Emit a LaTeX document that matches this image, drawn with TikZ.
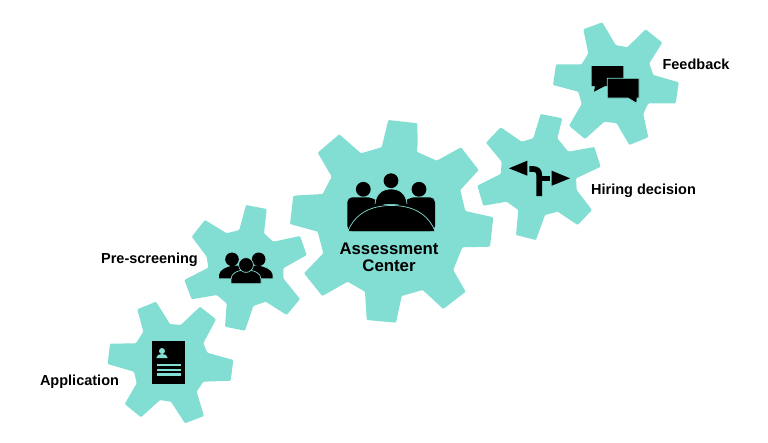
\documentclass[tikz,border=0pt]{standalone}
\usepackage{fontspec}
\setmainfont{Liberation Sans}
\usetikzlibrary{positioning}
\definecolor{gearteal}{RGB}{130,221,211}
\begin{document}
\begin{tikzpicture}[
	x=1pt, y=-1pt,
	% Define styles
	gearbody/.style={fill=gearteal, draw=none, rounded corners=1pt},
	gearlabel/.style={font=\fontsize{14.5}{17}\selectfont\bfseries, text=black, align=center, inner sep=0pt},
	biglabel/.style={gearlabel, font=\fontsize{16.8}{17}\selectfont\bfseries},
	iconblack/.style={fill=black, draw=none},
	iconcut/.style={fill=black, draw=gearteal, line width=0.7pt},
	iconteal/.style={fill=gearteal, draw=none}
	]
	\useasboundingbox (0,0) rectangle (768,442);
	
	% Gears
	\fill[gearbody] (137.3,309.3) -- (156,301.7) -- (170,324) -- (180.7,325) -- (200,306.7) -- (216,319.3) -- (203.3,343.3) -- (207.3,352.7) -- (233.3,360) -- (230.7,380.7) -- (203.3,381.7) -- (196.7,391.7) -- (204,416) -- (185,423.3) -- (171,401.7) -- (160,400) -- (141,417.3) -- (124.7,404) -- (136.7,383.3) -- (134,371.7) -- (107.7,364) -- (110,343.7) -- (136,343.3) -- (143.3,331.7) -- cycle;
	\fill[gearbody] (246,205) -- (266.7,209) -- (264,233.3) -- (273.3,241.7) -- (300,236) -- (306.7,255) -- (283.3,268.3) -- (283.3,278.3) -- (300,299) -- (286.7,315) -- (265.7,301.7) -- (253.3,306) -- (245,330.7) -- (225,326.7) -- (226.7,303.3) -- (216.7,295) -- (191.7,299.3) -- (184.3,280) -- (208.3,267.7) -- (206.7,256.7) -- (191.7,236.7) -- (205,220) -- (226.7,233.3) -- (239.3,230) -- cycle;
	\fill[gearbody] (388.3,120) -- (417.3,123.3) -- (417.7,143.3) -- (416.7,151.7) -- (436.7,160.7) -- (461,147.3) -- (478.7,170) -- (460.3,190) -- (465.3,211) -- (493.3,217.3) -- (490,246.7) -- (462.3,247.3) -- (453.3,270) -- (465.7,291.7) -- (443.3,309) -- (422.7,290) -- (401.7,296) -- (396,322.7) -- (366.7,320) -- (365,291.7) -- (347.7,281.7) -- (322.3,296) -- (304,273.3) -- (323.3,253.3) -- (317.7,231.7) -- (290,224) -- (293.3,195.7) -- (322.7,194) -- (331.7,176.7) -- (317.7,152.7) -- (339.3,134.3) -- (361,153.3) -- (381.7,147.3) -- cycle;
	\fill[gearbody] (540.7,114) -- (562.3,118.3) -- (557.3,138.3) -- (568.3,151.7) -- (594.3,147) -- (600.7,166.7) -- (576,178.3) -- (576.7,190) -- (592,210) -- (577.7,225) -- (557.7,211.7) -- (545,215) -- (536,240) -- (516,235) -- (518.3,210) -- (506.7,201.7) -- (483.3,205.7) -- (477.3,185.7) -- (500.7,174) -- (501.7,161.7) -- (486,142.7) -- (500.7,127.3) -- (521.7,141.7) -- (533.3,138.3) -- cycle;
	\fill[gearbody] (583.3,29.3) -- (602.3,22.3) -- (615.7,45) -- (627.3,47.3) -- (645.7,29.3) -- (662.3,42.7) -- (649.3,63.3) -- (653.3,75) -- (678.7,82.3) -- (675.7,103.3) -- (648.3,103.3) -- (643.3,114) -- (648.3,137.3) -- (629.3,145) -- (616.7,123.3) -- (604.3,121.7) -- (585,139) -- (569,125.7) -- (581.7,104) -- (578.3,91.7) -- (553,85) -- (556,64.3) -- (581.7,64.3) -- (588.3,53.3) -- cycle;
	
	% Application icon
	\fill[iconblack] (152,340.7) rectangle (185.3,384.3);
	\fill[iconteal] (162,351) circle[radius=3];
	\fill[iconteal] (156.3,358) .. controls (156.3,355) and (159,354) .. (162,354) .. controls (165,354) and (167.7,355) .. (167.7,358) -- cycle;
	\foreach \ly in {364.7,369.7,374.3}
		\fill[iconteal] (157,\ly-1.2) rectangle (180.7,\ly+1.2);
	
	% Pre-screening icon
	\fill[iconblack] (232,259.3) circle[radius=6.8];
	\fill[iconblack] (258.7,259.3) circle[radius=6.8];
	\fill[iconblack] (219,278.3) -- (219,275) .. controls (220,269.5) and (226,267) .. (233,265.5) -- (258,265.5) .. controls (265,267) and (272,269.5) .. (272.7,275) -- (272.7,278.3) -- cycle;
	\draw[iconcut] (231,283.7) -- (231,279) .. controls (231,273) and (238,270) .. (246,270) .. controls (254,270) and (261,273) .. (261,279) -- (261,283.7) -- cycle;
	\draw[iconcut] (246,265) circle[radius=7.4];
	
	% Assessment center icon
	\fill[iconblack] (363.3,189.3) circle[radius=7.4];
	\fill[iconblack] (419,189.3) circle[radius=7.4];
	\fill[iconblack] (391,180.7) circle[radius=7.4];
	\fill[iconblack, rounded corners=5pt] (347.3,231) -- (347.3,197.3) -- (372,197.3) -- (382,205) -- (400,205) -- (410,197.3) -- (435,197.3) -- (435,231) -- cycle;
	\draw[iconcut] (375,204) .. controls (376,193) and (383,189) .. (391,189) .. controls (399,189) and (406,193) .. (407,204);
	\fill[iconblack] (348.5,231) .. controls (355,214) and (370,206) .. (391.5,206) .. controls (413,206) and (428,214) .. (434.5,231) -- cycle;
	\draw[gearteal, line width=0.7pt] (348,231) .. controls (355,214) and (370,205.5) .. (391.5,205.5) .. controls (413,205.5) and (428,214) .. (435,231);
	
	% Hiring decision icon
	\fill[iconblack] (509,168.3) -- (527.3,160.7) -- (527.3,175.7) -- cycle;
	\fill[iconblack] (570,178.3) -- (551.7,170.7) -- (551.7,185.7) -- cycle;
	\fill[iconblack] (542,175.7) rectangle (550,180.7);
	\draw[black, line width=5.7pt] (529.3,169) -- (533,169) .. controls (537,169) and (539.2,171) .. (539.2,175) -- (539.2,196);
	
	% Feedback icon
	\fill[iconblack] (591.7,66) -- (623.3,66) -- (623.3,86) -- (605,86) -- (594,91.7) -- (595,86) -- (591.7,86) -- cycle;
	\draw[iconcut] (607.3,78.3) -- (639,78.3) -- (639,98) -- (637,98) -- (636.7,103.3) -- (628,98) -- (607.3,98) -- cycle;
	
	% Labels
	\node[gearlabel] (application) at (79.5,381.5) {Application};
	\node[gearlabel] (prescreening) at (149.5,259.5) {Pre-screening};
	\node[biglabel] (assessment) at (389,257) {Assessment\\Center};
	\node[gearlabel] (hiring) at (643.5,190.5) {Hiring decision};
	\node[gearlabel] (feedback) at (696,64.5) {Feedback};
	
\end{tikzpicture}
\end{document}
